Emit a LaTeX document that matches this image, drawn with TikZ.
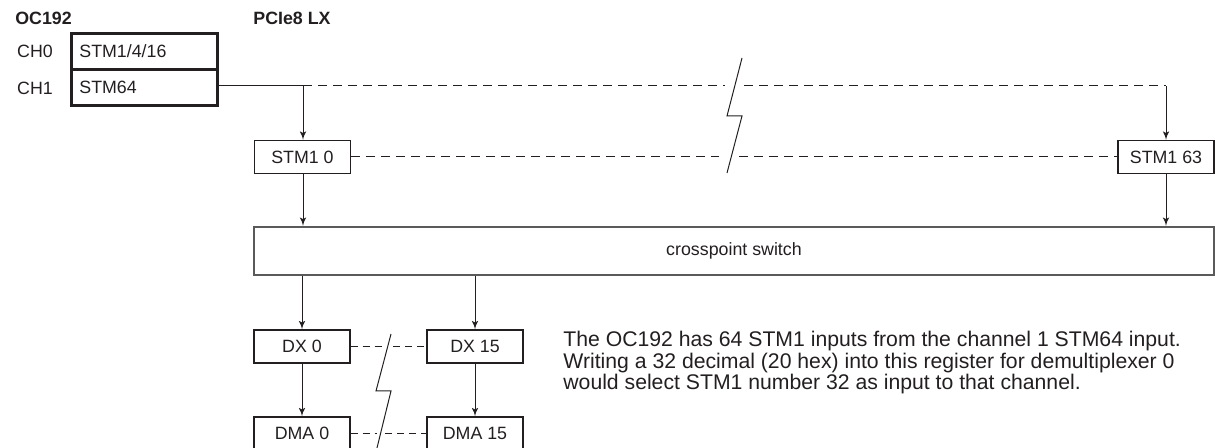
\documentclass[tikz,border=0pt]{standalone}
\usepackage{fontspec}
\setmainfont{Liberation Sans}
\usepackage{tikz}
\usetikzlibrary{shapes,arrows,positioning,calc}
\usepackage{xcolor}
\definecolor{inkColor}{HTML}{231F20}
\definecolor{switchColor}{HTML}{5A5A5A}
\tikzset{
  boxNode/.style = {draw=inkColor, text=inkColor, line width=0.6pt, inner sep=0pt,
    minimum width=48pt, minimum height=16.5pt, font=\fontsize{8.9}{10}\selectfont},
  ocNode/.style = {boxNode, line width=1.4pt, inner xsep=4pt, text width=65pt,
    align=left, minimum height=18pt, anchor=north west},% boite OC192
  switchNode/.style = {boxNode, draw=switchColor, line width=1pt,
    minimum width=480pt, minimum height=24pt},% crosspoint
  labelNode/.style = {text=inkColor, inner sep=0pt, font=\fontsize{8.9}{10}\selectfont},
  titleNode/.style = {labelNode, anchor=base west, font=\fontsize{8.9}{10}\selectfont\bfseries},
  noteNode/.style = {labelNode, anchor=base west, font=\fontsize{10.6}{12}\selectfont},
  thinLine/.style = {draw=inkColor, line width=0.5pt},
  dashLine/.style = {thinLine, dash pattern=on 4.5pt off 3pt},
  shortDashLine/.style = {thinLine, dash pattern=on 3.5pt off 2.5pt},
}

\begin{document}
\begin{tikzpicture}[x=0.5pt, y=-0.5pt, >=latex']
\useasboundingbox (0,0) rectangle (1215,448);

% titres
\node [titleNode] (ocTitle) at (15,25) {OC192};
\node [titleNode] (pcieTitle) at (253,25) {PCIe8 LX};

% carte OC192
\node [ocNode] (oc0) at (70,32) {STM1/4/16};
\node [ocNode] (oc1) at (70,68) {STM64};
\node [labelNode, anchor=base] (ch0) at (35,58) {CH0};
\node [labelNode, anchor=base] (ch1) at (35,95) {CH1};

% entrees STM1
\node [boxNode] (stm0) at (302.5,157) {STM1 0};
\node [boxNode] (stm63) at (1166,157) {STM1 63};
\coordinate (split0) at (303,86);
\coordinate (split63) at (1166,86);
\coordinate (gapTopL) at (725,86);
\coordinate (gapTopR) at (744,86);
\coordinate (gapMidL) at (719,157);
\coordinate (gapMidR) at (739,157);

\draw [thinLine] (oc1.east |- split0) -- (split0);
\draw [dashLine] (split0) -- (gapTopL);
\draw [dashLine] (gapTopR) -- (split63);
\draw [thinLine, ->] (split0) -- (split0 |- stm0.north);
\draw [thinLine, ->] (split63) -- (stm63.north);
\draw [dashLine] (stm0.east) -- (gapMidL);
\draw [dashLine] (gapMidR) -- (stm63.west);
\draw [thinLine] (742,58) -- (727,116) -- (742,116) -- (727,173);

% crosspoint switch
\node [switchNode] (xswitch) at (734,251) {crosspoint switch};
\draw [thinLine, ->] (split0 |- stm0.south) -- (split0 |- xswitch.north);
\draw [thinLine, ->] (stm63.south) -- (stm63.south |- xswitch.north);

% demultiplexeurs et DMA
\node [boxNode] (dx0) at (302,346.5) {DX 0};
\node [boxNode] (dx15) at (475,346.5) {DX 15};
\node [boxNode] (dma0) at (302,433.5) {DMA 0};
\node [boxNode] (dma15) at (475,433.5) {DMA 15};
\coordinate (gapDxL) at (383,346.5);
\coordinate (gapDxR) at (393,346.5);
\coordinate (gapDmaL) at (377,433.5);
\coordinate (gapDmaR) at (385,433.5);

\draw [thinLine, ->] (xswitch.south -| dx0.north) -- (dx0.north);
\draw [thinLine, ->] (xswitch.south -| dx15.north) -- (dx15.north);
\draw [thinLine, ->] (dx0.south) -- (dma0.north);
\draw [thinLine, ->] (dx15.south) -- (dma15.north);
\draw [shortDashLine] (dx0.east) -- (gapDxL);
\draw [shortDashLine] (gapDxR) -- (dx15.west);
\draw [shortDashLine] (dma0.east) -- (gapDmaL);
\draw [shortDashLine] (gapDmaR) -- (dma15.west);
\draw [thinLine] (391,334) -- (376,391) -- (391,391) -- (376,452);

% note
\node [noteNode] (note1) at (563,347) {The OC192 has 64 STM1 inputs from the channel 1 STM64 input.};
\node [noteNode] (note2) at (563,368.5) {Writing a 32 decimal (20 hex) into this register for demultiplexer 0};
\node [noteNode] (note3) at (563,390) {would select STM1 number 32 as input to that channel.};
\end{tikzpicture}
\end{document}
